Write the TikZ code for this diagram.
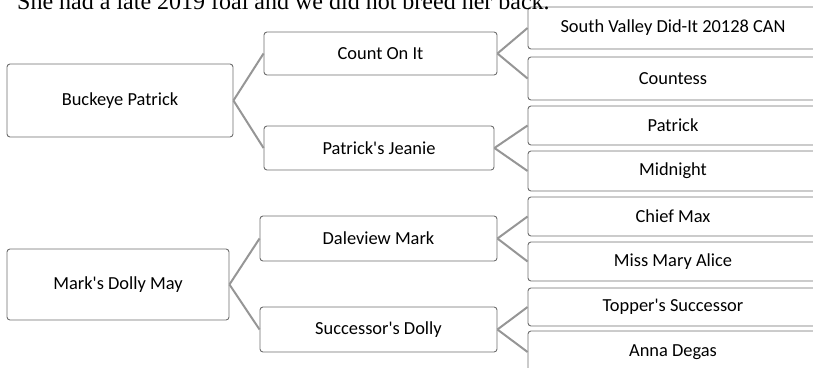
\documentclass[tikz,border=0pt]{standalone}
\usepackage{fontspec}
\setmainfont{Liberation Serif}
\newfontfamily\boxfont{Carlito}
\definecolor{boxline}{RGB}{110,110,110}
\definecolor{linkline}{RGB}{150,150,150}
\begin{document}
\begin{tikzpicture}[x=1pt,y=-1pt,
  person/.style={draw=boxline, fill=white, rounded corners=3pt, line width=0.9pt, inner sep=0pt, font=\boxfont\fontsize{18.4}{20}\selectfont},
  link/.style={draw=linkline, line width=2pt}]
\useasboundingbox (0,0) rectangle (813,367);
\node (buckeye) at (120,100.5) [person, minimum width=226pt, minimum height=73pt] {Buckeye Patrick};
\node (countonit) at (380.5,53.5) [person, minimum width=233pt, minimum height=43pt] {Count On It};
\node (jeanie) at (379,148) [person, minimum width=230pt, minimum height=44pt] {Patrick's Jeanie};
\node (southvalley) at (673,28) [person, minimum width=290pt, minimum height=42pt] {South Valley Did-It 20128 CAN};
\node (countess) at (673,78.5) [person, minimum width=290pt, minimum height=43pt] {Countess};
\node (patrick) at (673,125.5) [person, minimum width=290pt, minimum height=39pt] {Patrick};
\node (midnight) at (673,171) [person, minimum width=290pt, minimum height=40pt] {Midnight};
\node (marksdolly) at (118,284.5) [person, minimum width=222pt, minimum height=71pt] {Mark's Dolly May};
\node (daleview) at (378.5,238.5) [person, minimum width=237pt, minimum height=45pt] {Daleview Mark};
\node (successor) at (378.5,329.5) [person, minimum width=237pt, minimum height=45pt] {Successor's Dolly};
\node (chiefmax) at (673,216.5) [person, minimum width=290pt, minimum height=39pt] {Chief Max};
\node (missmary) at (673,261.5) [person, minimum width=290pt, minimum height=39pt] {Miss Mary Alice};
\node (toppers) at (673,307) [person, minimum width=290pt, minimum height=38pt] {Topper's Successor};
\node (anna) at (673,352) [person, minimum width=290pt, minimum height=42pt] {Anna Degas};
\draw[link] (buckeye.east) -- (countonit.west);
\draw[link] (buckeye.east) -- (jeanie.west);
\draw[link] (countonit.east) -- (southvalley.west);
\draw[link] (countonit.east) -- (countess.west);
\draw[link] (jeanie.east) -- (patrick.west);
\draw[link] (jeanie.east) -- (midnight.west);
\draw[link] (marksdolly.east) -- (daleview.west);
\draw[link] (marksdolly.east) -- (successor.west);
\draw[link] (daleview.east) -- (chiefmax.west);
\draw[link] (daleview.east) -- (missmary.west);
\draw[link] (successor.east) -- (toppers.west);
\draw[link] (successor.east) -- (anna.west);
\node (note) at (17,9) [anchor=base west, inner sep=0pt, font=\fontsize{24}{26}\selectfont] {She had a late 2019 foal and we did not breed her back.};
\end{tikzpicture}
\end{document}
